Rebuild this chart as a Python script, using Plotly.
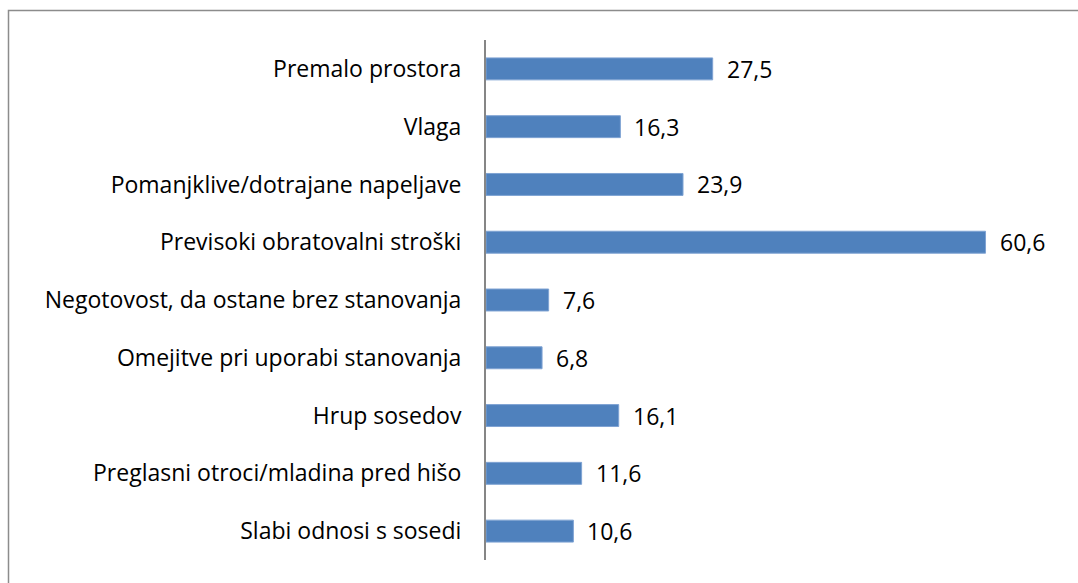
import plotly.graph_objects as go

categories = [
    "Premalo prostora",
    "Vlaga",
    "Pomanjklive/dotrajane napeljave",
    "Previsoki obratovalni stroški",
    "Negotovost, da ostane brez stanovanja",
    "Omejitve pri uporabi stanovanja",
    "Hrup sosedov",
    "Preglasni otroci/mladina pred hišo",
    "Slabi odnosi s sosedi",
]
values = [27.5, 16.3, 23.9, 60.6, 7.6, 6.8, 16.1, 11.6, 10.6]

FONT = "Open Sans"
FS = 23
fig = go.Figure()
fig.add_trace(go.Bar(
    x=values, y=categories, orientation="h",
    marker=dict(color="#4F81BD", line=dict(color="#7FA3D3", width=1)),
    hoverinfo="skip",
))
for c, v in zip(categories, values):
    fig.add_annotation(
        x=v, y=c, text=f"{v:.1f}".replace(".", ","), showarrow=False,
        xanchor="left", xshift=12, font=dict(family=FONT, size=FS, color="black"),
    )

fig.add_shape(type="rect", xref="paper", yref="paper",
              x0=-486/577 + 8.5/577, x1=2, y0=-1, y1=(583-10.5-23)/520,
              line=dict(color="#8C8C8C", width=1.5), layer="below")

fig.update_layout(
    width=1078, height=583,
    margin=dict(l=486, r=15, t=40, b=23),
    paper_bgcolor="white", plot_bgcolor="white",
    bargap=0.62, showlegend=False,
    font=dict(family=FONT, size=FS, color="black"),
    xaxis=dict(range=[0, 70], visible=False, showgrid=False, zeroline=False),
    yaxis=dict(autorange="reversed", showgrid=False, zeroline=False,
               showline=True, linecolor="#868686", linewidth=2,
               ticks="", ticklabelstandoff=18,
               tickfont=dict(family=FONT, size=FS, color="black")),
)
fig.write_html("out.html", config={"displayModeBar": False},
               post_script="document.body.style.margin='0';")
